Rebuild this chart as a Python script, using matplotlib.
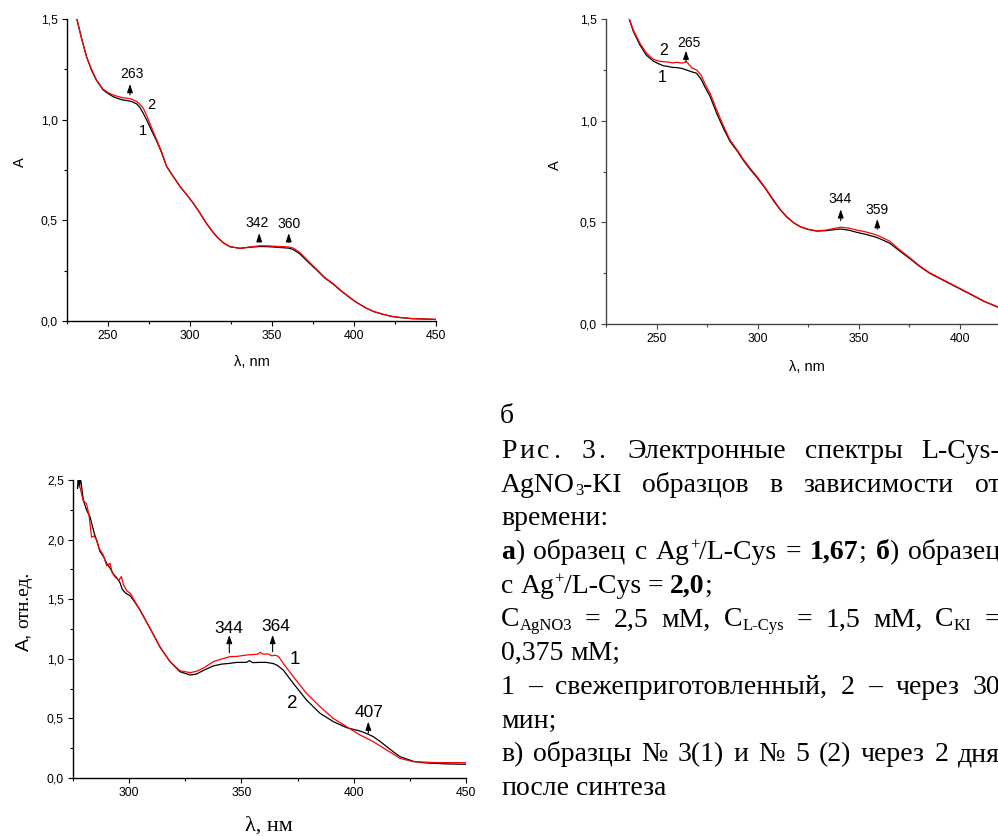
import numpy as np
import matplotlib
matplotlib.use('Agg')
import matplotlib.pyplot as plt
from matplotlib.ticker import MultipleLocator, FuncFormatter
from matplotlib.transforms import IdentityTransform

plt.rcParams['font.family'] = ['Liberation Sans', 'DejaVu Sans']
SERIF = ['Liberation Serif', 'DejaVu Serif']

# ---------------- data: panel a ----------------
wl_a = [231, 234, 237, 240, 243, 247, 250, 253, 256, 259, 262, 263.5, 265, 267.5,
        269.5, 271.5, 273.5, 275.5, 277.5, 279.7, 282, 285.8, 290, 294, 298, 302,
        306, 310, 313, 316.3, 320, 324.4, 330.5, 336, 342.7, 348, 354.9, 360, 363,
        367, 372, 377.3, 382, 387.4, 392, 397.6, 402, 407.7, 412, 417.8, 423, 428,
        435, 442, 450]
a_curve1 = [1.50, 1.40, 1.31, 1.245, 1.195, 1.148, 1.13, 1.115, 1.105, 1.098, 1.094,
            1.092, 1.088, 1.078, 1.06, 1.032, 1.00, 0.965, 0.93, 0.893, 0.85, 0.767,
            0.715, 0.667, 0.627, 0.585, 0.537, 0.485, 0.452, 0.419, 0.39, 0.369, 0.361,
            0.366, 0.370, 0.369, 0.365, 0.362, 0.355, 0.333, 0.293, 0.253, 0.215, 0.183,
            0.15, 0.115, 0.09, 0.063, 0.047, 0.033, 0.023, 0.017, 0.012, 0.010, 0.008]
a_curve2 = [1.50, 1.40, 1.31, 1.25, 1.197, 1.151, 1.135, 1.123, 1.115, 1.109, 1.106,
            1.104, 1.100, 1.090, 1.075, 1.057, 1.022, 0.982, 0.942, 0.899, 0.855, 0.767,
            0.715, 0.667, 0.627, 0.585, 0.537, 0.485, 0.452, 0.419, 0.39, 0.369, 0.361,
            0.367, 0.374, 0.373, 0.370, 0.368, 0.362, 0.340, 0.298, 0.256, 0.217, 0.185,
            0.152, 0.116, 0.09, 0.063, 0.047, 0.033, 0.023, 0.018, 0.012, 0.010, 0.008]

# ---------------- data: panel b ----------------
wl_b = [236.5, 238.5, 241.8, 245, 248.4, 251, 253.4, 256, 258, 260, 262.5, 264.9, 267.5,
        269.9, 272, 274, 276.5, 279.8, 283, 286.4, 290, 293, 296, 299.6, 304, 307.8,
        311, 314.4, 318, 321, 325, 329.3, 334, 338, 341, 345, 349.1, 354, 358.9, 362,
        365.5, 370, 375.4, 380, 385.2, 391, 398.4, 406.6, 412, 418.4, 425, 435, 450]
b_curve1 = [1.50, 1.44, 1.372, 1.322, 1.293, 1.28, 1.27, 1.266, 1.262, 1.261, 1.257,
            1.249, 1.24, 1.233, 1.205, 1.165, 1.12, 1.036, 0.965, 0.898, 0.85, 0.805,
            0.765, 0.722, 0.665, 0.608, 0.565, 0.527, 0.497, 0.479, 0.465, 0.457, 0.459,
            0.464, 0.467, 0.462, 0.451, 0.44, 0.426, 0.413, 0.397, 0.362, 0.322, 0.285,
            0.25, 0.22, 0.182, 0.14, 0.112, 0.085, 0.065, 0.045, 0.03]
b_curve2 = [1.50, 1.446, 1.381, 1.332, 1.302, 1.293, 1.29, 1.288, 1.284, 1.287, 1.283,
            1.29, 1.26, 1.249, 1.225, 1.181, 1.135, 1.053, 0.978, 0.905, 0.855, 0.81,
            0.77, 0.727, 0.668, 0.612, 0.567, 0.529, 0.498, 0.48, 0.466, 0.458, 0.462,
            0.470, 0.476, 0.472, 0.462, 0.452, 0.438, 0.424, 0.407, 0.368, 0.326, 0.288,
            0.252, 0.222, 0.184, 0.142, 0.113, 0.086, 0.066, 0.046, 0.03]

# ---------------- data: panel c ----------------
wl_c2 = [277.0, 277.4, 277.8, 278.3, 279.6, 281, 282.6, 284.5, 285.6, 287, 288.5, 290,
         291.5, 293, 294.5, 295.9, 297, 298.5, 300.4, 302, 304.8, 309.3, 313.7, 318.2,
         322.6, 327.1, 330, 333.3, 337.5, 341, 344.9, 348, 352.3, 353.5, 355, 358.3,
         361, 364.2, 366, 368.6, 373.1, 379, 385, 390.9, 396.9, 402.8, 405.5, 408.7,
         411.5, 414.7, 418, 420.6, 426.5, 431, 435.4, 442, 450]
c_curve2 = [2.43, 2.55, 2.44, 2.52, 2.33, 2.25, 2.19, 2.05, 1.99, 1.90, 1.86, 1.80,
            1.76, 1.71, 1.68, 1.64, 1.58, 1.55, 1.53, 1.49, 1.41, 1.256, 1.10, 0.976,
            0.892, 0.864, 0.872, 0.905, 0.94, 0.955, 0.962, 0.97, 0.97, 0.985, 0.968,
            0.97, 0.97, 0.96, 0.945, 0.906, 0.794, 0.654, 0.543, 0.473, 0.422, 0.394,
            0.375, 0.347, 0.31, 0.263, 0.215, 0.179, 0.14, 0.128, 0.123, 0.118, 0.115]
wl_c1 = [278.0, 279.5, 281, 282, 283.3, 284.3, 285.5, 286.5, 288.5, 290, 291.5, 292.5,
         294, 295.5, 296.5, 297.5, 299, 300.5, 302, 304.8, 309.3, 313.7, 318.2, 322.6,
         327.1, 330, 333.3, 337.5, 341, 344.9, 348, 352.3, 355, 357.5, 358.3, 359.5,
         362, 363.5, 365, 366.5, 368.6, 373.1, 379, 385, 390.9, 396.9, 402.8, 408.7,
         414.7, 420.6, 426.5, 435.4, 442, 450]
c_curve1 = [2.45, 2.33, 2.30, 2.22, 2.02, 2.03, 2.0, 1.93, 1.87, 1.78, 1.80, 1.72,
            1.68, 1.66, 1.69, 1.62, 1.57, 1.55, 1.50, 1.41, 1.256, 1.10, 0.976, 0.90,
            0.884, 0.895, 0.925, 0.976, 0.997, 1.018, 1.02, 1.032, 1.035, 1.04, 1.055,
            1.04, 1.04, 1.025, 1.03, 1.02, 0.962, 0.85, 0.71, 0.598, 0.50, 0.43, 0.361,
            0.305, 0.235, 0.165, 0.137, 0.13, 0.129, 0.129]

# annotations: (label, arrow x, arrow tail y, arrow head y, label x, label y)
peaks_a = [("263", 263.4, 1.123, 1.177, 264.5, 1.227),
           ("342", 342.2, 0.394, 0.436, 341.0, 0.485),
           ("360", 360.2, 0.391, 0.436, 360.6, 0.480)]
peaks_b = [("265", 264.6, 1.29, 1.344, 265.9, 1.381),
           ("344", 341.2, 0.508, 0.564, 340.8, 0.613),
           ("359", 359.3, 0.466, 0.516, 359.3, 0.561)]
peaks_c = [("344", 344.6, 1.051, 1.20, 344.3, 1.253),
           ("364", 363.9, 1.06, 1.20, 365.4, 1.275),
           ("407", 406.5, 0.375, 0.473, 406.9, 0.548)]
curve_labels_a = [("2", 276.6, 1.073), ("1", 271.1, 0.944)]
curve_labels_b = [("2", 253.7, 1.344), ("1", 252.9, 1.212)]
curve_labels_c = [("1", 373.8, 0.996), ("2", 372.8, 0.627)]

xticks_a = [250, 300, 350, 400, 450]
xticks_c = [300, 350, 400, 450]

W, H = 998, 836
fig = plt.figure(figsize=(W / 100, H / 100), dpi=100)
ID = IdentityTransform()


def px_axes(left, top, right, bottom):
    return fig.add_axes([left / W, 1 - bottom / H, (right - left) / W, (bottom - top) / H])


comma = FuncFormatter(lambda v, p: f"{v:.1f}".replace('.', ','))


def style(ax, xlim, ylim, xt, ymaj, color='k', lsize=8.8):
    ax.set_xlim(*xlim)
    ax.set_ylim(*ylim)
    for s in ['top', 'right']:
        ax.spines[s].set_visible(False)
    for s in ['left', 'bottom']:
        ax.spines[s].set_color(color)
        ax.spines[s].set_linewidth(1.0)
    ax.set_xticks(xt)
    ax.xaxis.set_minor_locator(MultipleLocator(25))
    ax.yaxis.set_major_locator(MultipleLocator(ymaj))
    ax.yaxis.set_minor_locator(MultipleLocator(ymaj / 2))
    ax.yaxis.set_major_formatter(comma)
    ax.tick_params(which='major', direction='out', length=3.5, width=0.8, color=color,
                   labelsize=lsize, pad=3)
    ax.tick_params(which='minor', direction='out', length=2.2, width=0.8, color=color)
    ax.patch.set_alpha(0)


def arrows(ax, peaks, fs):
    for lab, x, y0, y1, lx, ly in peaks:
        ax.annotate('', xy=(x, y1), xytext=(x, y0),
                    arrowprops=dict(arrowstyle='-|>,head_width=0.17,head_length=0.5',
                                    color='k', lw=0.8, shrinkA=0, shrinkB=0))
        ax.text(lx, ly, lab, ha='center', va='center', fontsize=fs)


def ptext(x, y_img, s, **kw):
    return fig.text(x, H - y_img, s, transform=ID, **kw)


# ---- panel a ----
ax_a = px_axes(67, 19, 436, 321)
ax_a.plot(wl_a, a_curve1, color='k', lw=0.9)
ax_a.plot(wl_a, a_curve2, color='#ff0000', lw=0.9)
style(ax_a, (225, 450), (0, 1.5), xticks_a, 0.5)
arrows(ax_a, peaks_a, 10)
for lab, x, y in curve_labels_a:
    ax_a.text(x, y, lab, ha='center', va='center', fontsize=10.5)
ptext(20, 162, 'A', rotation=90, ha='center', va='center', fontsize=10.5)
ptext(252, 362, 'λ, nm', ha='center', va='center', fontsize=10.5)

# ---- panel b ----
ax_b = px_axes(606, 19, 606 + 225 * 2.02, 324)
ax_b.plot(wl_b, b_curve1, color='k', lw=0.9)
ax_b.plot(wl_b, b_curve2, color='#ff0000', lw=0.9)
style(ax_b, (225, 450), (0, 1.5), xticks_a, 0.5, color='#444444')
arrows(ax_b, peaks_b, 10)
for lab, x, y in curve_labels_b:
    ax_b.text(x, y, lab, ha='center', va='center', fontsize=11.5)
ptext(555, 165, 'A', rotation=90, ha='center', va='center', fontsize=10.5)
ptext(807, 367, 'λ, nm', ha='center', va='center', fontsize=10.5)

# ---- panel c ----
ax_c = px_axes(73, 480, 466, 778)
ax_c.plot(wl_c2, c_curve2, color='k', lw=0.9)
ax_c.plot(wl_c1, c_curve1, color='#ff0000', lw=0.9)
style(ax_c, (275, 450), (0, 2.5), xticks_c, 0.5)
arrows(ax_c, peaks_c, 12.5)
for lab, x, y in curve_labels_c:
    ax_c.text(x, y, lab, ha='center', va='center', fontsize=13.5)
ptext(28, 651, 'A,', rotation=90, rotation_mode='anchor', ha='left', va='baseline',
      fontsize=14)
ptext(28, 628, 'отн.ед.', rotation=90, rotation_mode='anchor', ha='left', va='baseline',
      fontsize=14, family=SERIF)
ptext(269, 831, 'λ, нм', ha='center', va='baseline', fontsize=16, family=SERIF)

# ---- label б and caption ----
ptext(500, 423, 'б', ha='left', va='baseline', fontsize=20, family=SERIF)

renderer = fig.canvas.get_renderer()
STY = {'n': (20, 'normal', 0), 'b': (20, 'bold', 0),
       'sub': (12, 'normal', -3.5), 'sup': (12, 'normal', 9)}


def measure(s, sty):
    size, weight, _ = STY[sty]
    t = fig.text(0, 0, s, fontsize=size, fontweight=weight, family=SERIF, transform=ID)
    w = t.get_window_extent(renderer=renderer).width
    t.remove()
    return w


def word_width(runs, track=0):
    w = 0
    for s, sty in runs:
        if track:
            w += sum(measure(ch, sty) + track for ch in s)
        else:
            w += measure(s, sty)
    return w


def draw_word(x, yb, runs, track=0):
    for s, sty in runs:
        size, weight, dy = STY[sty]
        chunks = list(s) if track else [s]
        for ch in chunks:
            fig.text(x, H - yb + dy, ch, fontsize=size, fontweight=weight, family=SERIF,
                     transform=ID, ha='left', va='baseline')
            x += measure(ch, sty) + track
    return x


L, R = 501, 1000
SPACE = measure('a a', 'n') - measure('aa', 'n')


def draw_line(yb, words, justify=False, tracks=None):
    words = [[(w, 'n')] if isinstance(w, str) else w for w in words]
    tracks = tracks or [0] * len(words)
    widths = [word_width(w, t) for w, t in zip(words, tracks)]
    gap = (R - L - sum(widths)) / (len(words) - 1) if justify else SPACE
    x = L
    for w, t, wd in zip(words, tracks, widths):
        draw_word(x, yb, w, t)
        x += wd + gap


base, step = 458, 33.7
lines = [
    (["Рис.", "3.", "Электронные", "спектры", "L-Cys-"], True, [3, 3, 0, 0, 0]),
    ([[("AgNO", 'n'), ("3", 'sub'), ("-KI", 'n')], "образцов", "в", "зависимости", "от"],
     True, None),
    (["времени:"], False, None),
    ([[("а", 'b'), (")", 'n')], "образец", "с", [("Ag", 'n'), ("+", 'sup'), ("/L-Cys", 'n')],
      "=", [("1,67", 'b'), (";", 'n')], [("б", 'b'), (")", 'n')], "образец"], True, None),
    (["с", [("Ag", 'n'), ("+", 'sup'), ("/L-Cys", 'n')], "=", [("2,0", 'b'), (";", 'n')]],
     False, None),
    ([[("C", 'n'), ("AgNO3", 'sub')], "=", "2,5", "мМ,", [("C", 'n'), ("L-Cys", 'sub')], "=",
      "1,5", "мМ,", [("C", 'n'), ("KI", 'sub')], "="], True, None),
    (["0,375", "мМ;"], False, None),
    (["1", "–", "свежеприготовленный,", "2", "–", "через", "30"], True, None),
    (["мин;"], False, None),
    (["в)", "образцы", "№", "3(1)", "и", "№", "5", "(2)", "через", "2", "дня"], True, None),
    (["после", "синтеза"], False, None),
]
for i, (words, just, tr) in enumerate(lines):
    draw_line(base + i * step, words, just, tr)

fig.savefig('out.png', dpi=100)
